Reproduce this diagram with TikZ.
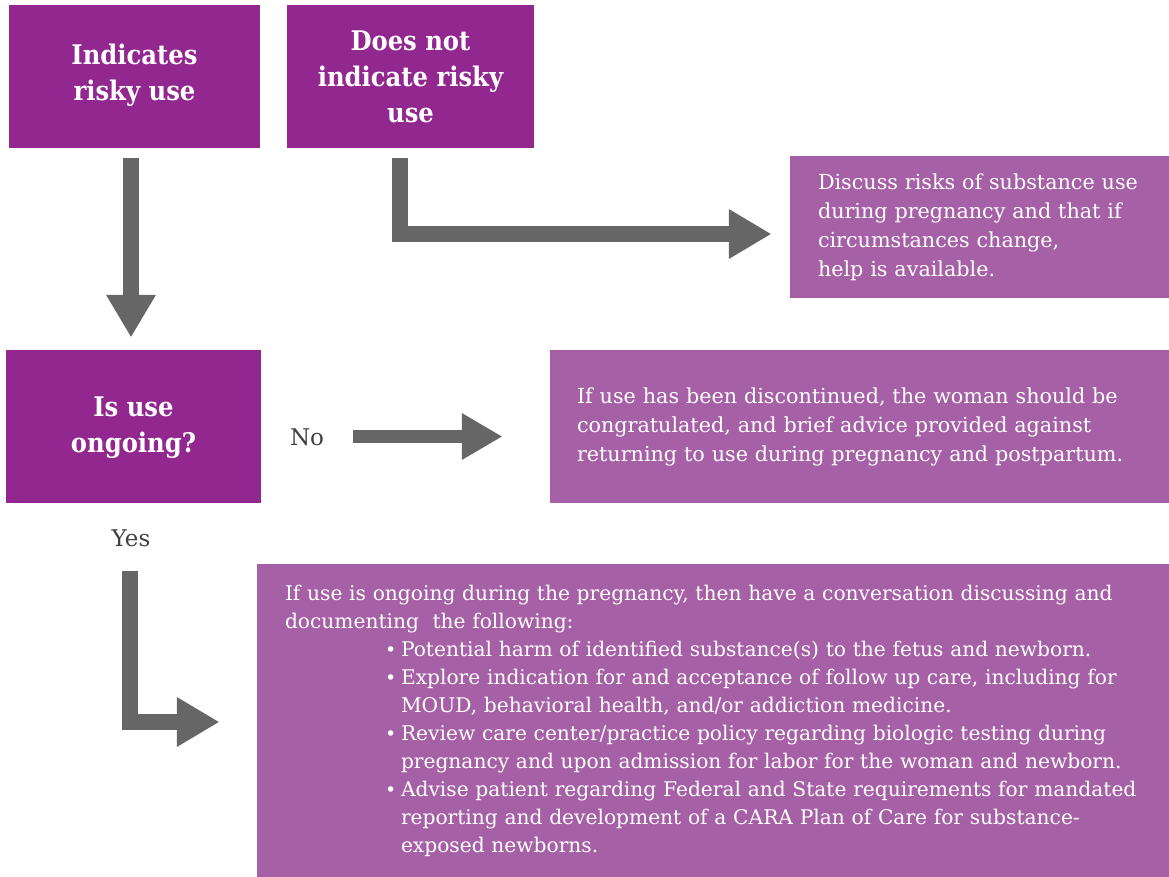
\documentclass[tikz,border=0pt]{standalone}
\usepackage{fontspec}
\setmainfont{DejaVu Serif}
\newfontfamily\condfont{DejaVu Serif Condensed}
\usetikzlibrary{arrows.meta}
\definecolor{dpurple}{HTML}{91278F}
\definecolor{lpurple}{HTML}{A661A6}
\definecolor{agray}{HTML}{666666}
\definecolor{lblgray}{HTML}{404040}
\newcommand\bul[1]{\hspace*{100pt}\makebox[16pt][l]{\fontsize{19}{19}\selectfont •}#1}
\newcommand\cnt[1]{\hspace*{116pt}#1}
\tikzset{
  titlebox/.style={fill=dpurple, text=white, align=center, inner sep=0pt,
    font=\condfont\bfseries\fontsize{27}{36}\selectfont},
  infobox/.style={fill=lpurple, text=white, align=left, inner ysep=0pt,
    font=\fontsize{20.7}{29}\selectfont},
  lbl/.style={text=lblgray, font=\fontsize{23}{26}\selectfont, inner sep=0pt},
  bigarrow/.style={draw=agray, line width=16pt, line join=miter,
    -{Triangle[width=50pt,length=42pt,line width=0pt]}},
  thinarrow/.style={draw=agray, line width=13pt, line join=miter,
    -{Triangle[width=47pt,length=40pt,line width=0pt]}}
}
\begin{document}
\begin{tikzpicture}[x=1pt,y=-1pt]
\useasboundingbox (0,0) rectangle (1169,877);
\node[titlebox, minimum width=251pt, minimum height=143pt] (b1) at (134.5,76.5) {Indicates\\risky use\\[-28pt]\mbox{}};
\node[titlebox, minimum width=247pt, minimum height=143pt] (b2) at (410.5,76.5) {Does not\\indicate risky\\use};
\node[titlebox, minimum width=255pt, minimum height=153pt] (b4) at (133.5,426.5) {Is use\\ongoing?\\[-32pt]\mbox{}};
\node[infobox, minimum width=379pt, minimum height=142pt, inner xsep=28pt, text width=323pt] (b3) at (979.5,227)
  {Discuss risks of substance use\\during pregnancy and that if\\circumstances change,\\help is available.};
\node[infobox, minimum width=619pt, minimum height=153pt, inner xsep=27pt, text width=565pt] (b5) at (859.5,426.5)
  {If use has been discontinued, the woman should be\\congratulated, and brief advice provided against\\returning to use during pregnancy and postpartum.};
\node[infobox, minimum width=912pt, minimum height=313pt, inner xsep=28pt, text width=856pt,
  font=\fontsize{20.2}{28}\selectfont] (b6) at (713,720.5)
  {If use is ongoing during the pregnancy, then have a conversation discussing and\\
   documenting\ \ the following:\\
   \bul{Potential harm of identified substance(s) to the fetus and newborn.}\\
   \bul{Explore indication for and acceptance of follow up care, including for}\\
   \cnt{MOUD, behavioral health, and/or addiction medicine.}\\
   \bul{Review care center/practice policy regarding biologic testing during}\\
   \cnt{pregnancy and upon admission for labor for the woman and newborn.}\\
   \bul{Advise patient regarding Federal and State requirements for mandated}\\
   \cnt{reporting and development of a CARA Plan of Care for substance-}\\
   \cnt{exposed newborns.}};
\node[lbl] (no) at (307,437) {No};
\node[lbl] (yes) at (131,538) {Yes};
\draw[bigarrow, shorten <=10pt, shorten >=13pt] ([xshift=-3.5pt]b1.south) -- ([xshift=-2.5pt]b4.north);
\draw[bigarrow, shorten <=10pt, shorten >=19pt] ([xshift=-10.5pt]b2.south) |- ([yshift=-7pt]b3.west);
\draw[thinarrow, shorten <=92pt, shorten >=48pt] ([yshift=-10pt]b4.east) -- ([yshift=-10pt]b5.west);
\draw[bigarrow, shorten >=38pt] ([xshift=-3.5pt,yshift=-68pt]b4.south) |- ([yshift=-1.5pt]b6.west);
\end{tikzpicture}
\end{document}
